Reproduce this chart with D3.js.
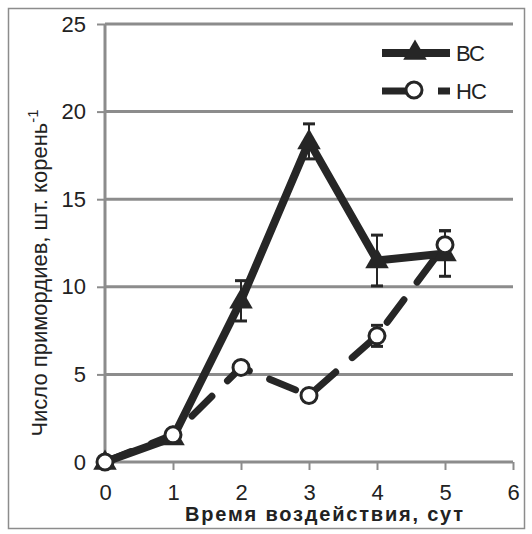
<!DOCTYPE html>
<html>
<head>
<meta charset="utf-8">
<script src="https://cdn.jsdelivr.net/npm/d3@7"></script>
<style>
  body { margin: 0; background: #fff; }
  text { font-family: "Liberation Sans", Arial, sans-serif; fill: #222; }
</style>
</head>
<body>
<div id="chart"></div>
<script>
// data
var days = [0, 1, 2, 3, 4, 5];
var vsValues = [0, 1.4, 9.2, 18.3, 11.5, 11.9];
var vsErrors = [0, 0, 1.15, 1.0, 1.45, 1.3];
var nsValues = [0, 1.55, 5.4, 3.8, 7.2, 12.4];
var nsErrors = [0, 0, 0.3, 0.2, 0.6, 0.8];
var xTicks = [0, 1, 2, 3, 4, 5, 6];
var yTicks = [0, 5, 10, 15, 20, 25];

var width = 532, height = 534;
var margin = {left: 105, right: 19, top: 24, bottom: 72};

var svg = d3.select("#chart").append("svg")
  .attr("width", width)
  .attr("height", height);

// outer frame
svg.append("rect")
  .attr("x", 8.5).attr("y", 8.5)
  .attr("width", 516).attr("height", 520)
  .attr("fill", "none")
  .attr("stroke", "#8c8c8c")
  .attr("stroke-width", 1.5);

var x = d3.scaleLinear().domain([0, 6]).range([margin.left, 513]);
var y = d3.scaleLinear().domain([0, 25]).range([462, margin.top]);

// gridlines
svg.append("g").selectAll("line")
  .data(yTicks.slice(1))
  .enter().append("line")
  .attr("x1", x(0)).attr("x2", x(6))
  .attr("y1", function(d) { return y(d); })
  .attr("y2", function(d) { return y(d); })
  .attr("stroke", "#8c8c8c")
  .attr("stroke-width", 3);

// axes
var yAxis = svg.append("g")
  .attr("transform", "translate(" + x(0) + ",0)")
  .call(d3.axisLeft(y).tickValues(yTicks).tickFormat(d3.format("d")).tickSize(8).tickPadding(11));
var xAxis = svg.append("g")
  .attr("transform", "translate(0," + y(0) + ")")
  .call(d3.axisBottom(x).tickValues(xTicks).tickFormat(d3.format("d")).tickSize(8).tickPadding(14));

[yAxis, xAxis].forEach(function(a) {
  a.select(".domain").attr("stroke", "#8c8c8c").attr("stroke-width", 3);
  a.selectAll(".tick line").attr("stroke", "#8c8c8c").attr("stroke-width", 2);
  a.selectAll(".tick text").style("font-size", "22px").attr("fill", "#222")
    .style("font-family", "Liberation Sans, Arial, sans-serif");
});
xAxis.select(".domain").attr("d", "M" + x(0) + ",0H" + x(6));
yAxis.select(".domain").attr("d", "M0," + y(0) + "V" + y(25));

// axis titles
var yTitle = svg.append("text")
  .attr("transform", "translate(47,273) rotate(-90)")
  .attr("text-anchor", "middle")
  .style("font-size", "22px");
yTitle.append("tspan").text("Число примордиев, шт. корень");
yTitle.append("tspan").attr("dy", -9).style("font-size", "15px").text("-1");

svg.append("text")
  .attr("x", 325).attr("y", 521)
  .attr("text-anchor", "middle")
  .style("font-size", "20px")
  .style("font-weight", "bold")
  .style("letter-spacing", "1.8px")
  .text("Время воздействия, сут");

var lineColor = "#262626";
var line = d3.line()
  .x(function(d) { return x(d[0]); })
  .y(function(d) { return y(d[1]); });

var vsData = days.map(function(d, i) { return [d, vsValues[i], vsErrors[i]]; });
var nsData = days.map(function(d, i) { return [d, nsValues[i], nsErrors[i]]; });

var triangle = d3.symbol().type(d3.symbolTriangle).size(240);

function errorBars(data) {
  var g = svg.append("g");
  var withErr = data.filter(function(d) { return d[2] > 0; });
  g.selectAll(".v").data(withErr).enter().append("line")
    .attr("x1", function(d) { return x(d[0]); })
    .attr("x2", function(d) { return x(d[0]); })
    .attr("y1", function(d) { return y(d[1] - d[2]); })
    .attr("y2", function(d) { return y(d[1] + d[2]); })
    .attr("stroke", lineColor).attr("stroke-width", 2);
  [-1, 1].forEach(function(s) {
    g.selectAll(".c" + s).data(withErr).enter().append("line")
      .attr("x1", function(d) { return x(d[0]) - 6; })
      .attr("x2", function(d) { return x(d[0]) + 6; })
      .attr("y1", function(d) { return y(d[1] + s * d[2]); })
      .attr("y2", function(d) { return y(d[1] + s * d[2]); })
      .attr("stroke", lineColor).attr("stroke-width", 3);
  });
}

// НС series (dashed, open circles)
svg.append("path")
  .datum(nsData)
  .attr("d", line)
  .attr("fill", "none")
  .attr("stroke", lineColor)
  .attr("stroke-width", 7)
  .attr("stroke-linecap", "round")
  .attr("stroke-dasharray", "28,22");

// ВС series (solid, triangles)
svg.append("path")
  .datum(vsData)
  .attr("d", line)
  .attr("fill", "none")
  .attr("stroke", lineColor)
  .attr("stroke-width", 8)
  .attr("stroke-linejoin", "miter");

errorBars(vsData);
errorBars(nsData);

svg.append("g").selectAll("path")
  .data(vsData)
  .enter().append("path")
  .attr("d", triangle)
  .attr("transform", function(d) { return "translate(" + x(d[0]) + "," + (y(d[1]) + 1) + ")"; })
  .attr("fill", lineColor);

svg.append("g").selectAll("circle")
  .data(nsData)
  .enter().append("circle")
  .attr("cx", function(d) { return x(d[0]); })
  .attr("cy", function(d) { return y(d[1]); })
  .attr("r", 8)
  .attr("fill", "#fff")
  .attr("stroke", lineColor)
  .attr("stroke-width", 3);

// legend
var legend = svg.append("g").attr("transform", "translate(382,0)");
legend.append("line")
  .attr("x1", 0).attr("x2", 68).attr("y1", 53).attr("y2", 53)
  .attr("stroke", lineColor).attr("stroke-width", 8);
legend.append("path")
  .attr("d", triangle)
  .attr("transform", "translate(33,53)")
  .attr("fill", lineColor);
legend.append("text")
  .attr("x", 74).attr("y", 61)
  .style("font-size", "22px")
  .style("letter-spacing", "-1px")
  .text("ВС");

legend.append("line")
  .attr("x1", 0).attr("x2", 68).attr("y1", 91).attr("y2", 91)
  .attr("stroke", lineColor).attr("stroke-width", 7)
  .attr("stroke-dasharray", "32,24,12");
legend.append("circle")
  .attr("cx", 32).attr("cy", 90).attr("r", 8)
  .attr("fill", "#fff")
  .attr("stroke", lineColor).attr("stroke-width", 3);
legend.append("text")
  .attr("x", 74).attr("y", 99)
  .style("font-size", "22px")
  .style("letter-spacing", "-1px")
  .text("НС");
</script>
</body>
</html>
